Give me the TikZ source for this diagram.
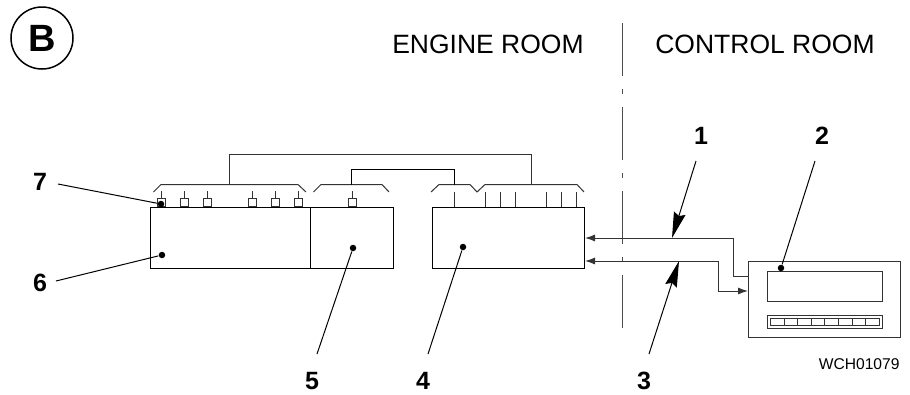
\documentclass[tikz,border=0pt]{standalone}
\usepackage{fontspec}
\setmainfont{Liberation Sans}
\usetikzlibrary{arrows.meta, positioning, calc}

\begin{document}
\begin{tikzpicture}[
    x=1pt, y=-1pt,
    line width=1pt,
    unit/.style={rectangle, draw=black, minimum height=61pt, inner sep=0pt, anchor=north west},
    callout/.style={font=\fontsize{25}{25}\bfseries\selectfont, inner sep=0pt},
    room/.style={font=\fontsize{26.5}{26.5}\selectfont, inner sep=0pt},
    spot/.style={circle, fill=black, inner sep=0pt, minimum size=6.5pt},
    pin/.style={rectangle, draw=black!80, inner sep=0pt, minimum width=8pt, minimum height=8pt, anchor=south},
    wire/.style={draw=black!80},
    leader/.style={draw=black, line width=1pt},
    bigtip/.style={-{Stealth[length=26pt, width=12pt, inset=3pt]}},
    smalltip/.style={-{Latex[length=10pt, width=7pt]}}
]
    \useasboundingbox (0,0) rectangle (910,394);

    % Heading
    \node[circle, draw=black, line width=1.5pt, minimum size=62pt, inner sep=0pt, font=\fontsize{38}{38}\bfseries\selectfont] (badge) at (42,38) {B};
    \node[room] (engine) at (488,44) {ENGINE ROOM};
    \node[room] (control) at (765,44) {CONTROL ROOM};

    % Room boundary
    \coordinate (top) at (622,23);
    \coordinate (bottom) at (622,330);
    \draw[black!70, dash pattern=on 53pt off 13pt on 5pt off 13pt] (top) -- (bottom);

    % Units from left to right
    \node[unit, minimum width=243pt] (six) at (150,207) {};
    \node[unit, minimum width=83pt] (five) at (310,207) {};
    \node[unit, minimum width=152pt] (four) at (432,207) {};
    \node[rectangle, draw=black!80, minimum width=152pt, minimum height=76pt, inner sep=0pt, anchor=north west] (panel) at (748,261) {};
    \node[rectangle, draw=black!80, minimum width=115pt, minimum height=30pt, inner sep=0pt, anchor=north west] (screen) at (767,271) {};
    \node[rectangle, draw=black!80, minimum width=115pt, minimum height=13pt, inner sep=0pt, anchor=north west] (keypad) at (767,315) {};
    \foreach \i in {0,...,7}
        \node[rectangle, draw=black!80, minimum width=13.6pt, minimum height=7pt, inner sep=0pt, anchor=north west] (key\i) at (770+13.6*\i,318) {};

    % Connector pins
    \foreach \x in {161,184,207,252,275,298,352} {
        \node[pin] (pin\x) at (\x,207) {};
        \draw[wire] (pin\x.north) -- ++(0,-7.5);
    }
    \foreach \x in {454,485,500,515,546,561,576}
        \draw[wire] (\x,207) -- (\x,192);

    % Connector brackets
    \draw[wire] (153.5,192) -- (161,184.5) -- (298,184.5) -- (306,192);
    \draw[wire] (313.5,192) -- (321,184.5) -- (382,184.5) -- (389,192);
    \draw[wire] (431,192) -- (439,184.5) -- (470,184.5) -- (477,192) -- (485,184.5) -- (577,184.5) -- (584,192);

    % Harness between connectors
    \draw[wire] (229,184.5) -- (229,154) -- (531,154) -- (531,184.5);
    \draw[black] (351,184.5) -- (351,169) -- (454,169) -- (454,184.5);

    % Wires to the panel
    \coordinate (inA) at (four.north east |- 0,238);
    \coordinate (inB) at (four.north east |- 0,261);
    \coordinate (outA) at (panel.west |- 0,276);
    \coordinate (outB) at (panel.west |- 0,291);
    \draw[wire, smalltip] (outA) -- (733,276) -- (733,238) -- (inA);
    \draw[wire, {Latex[length=10pt, width=7pt]}-{Latex[length=10pt, width=7pt]}] (inB) -- (718,261) -- (718,291) -- (outB);

    % Call-outs
    \coordinate (onA) at (672,238);
    \coordinate (onB) at (679,261);
    \node[callout] (n1) at (701,136) {1};
    \node[callout] (n2) at (822,136) {2};
    \node[callout] (n3) at (644,381) {3};
    \node[callout] (n4) at (423,381) {4};
    \node[callout] (n5) at (312,381) {5};
    \node[callout] (n6) at (40,283) {6};
    \node[callout] (n7) at (40,182) {7};
    \node[spot] (spot2) at (781,268) {};
    \node[spot] (spot4) at (463,247) {};
    \node[spot] (spot5) at (353,248) {};
    \node[spot] (spot6) at (162,255) {};
    \node[spot] (spot7) at (161,204) {};
    \draw[leader, bigtip] (696,161) -- (onA);
    \draw[leader, bigtip] (649,354) -- (onB);
    \draw[leader] (815,161) -- (spot2);
    \draw[leader] (428,354) -- (spot4);
    \draw[leader] (317,354) -- (spot5);
    \draw[leader] (56,281) -- (spot6);
    \draw[leader] (58,184) -- (spot7);

    \node[font=\fontsize{15.6}{15.6}\selectfont, inner sep=0pt, anchor=east] (code) at (900,364) {WCH01079};
\end{tikzpicture}
\end{document}
